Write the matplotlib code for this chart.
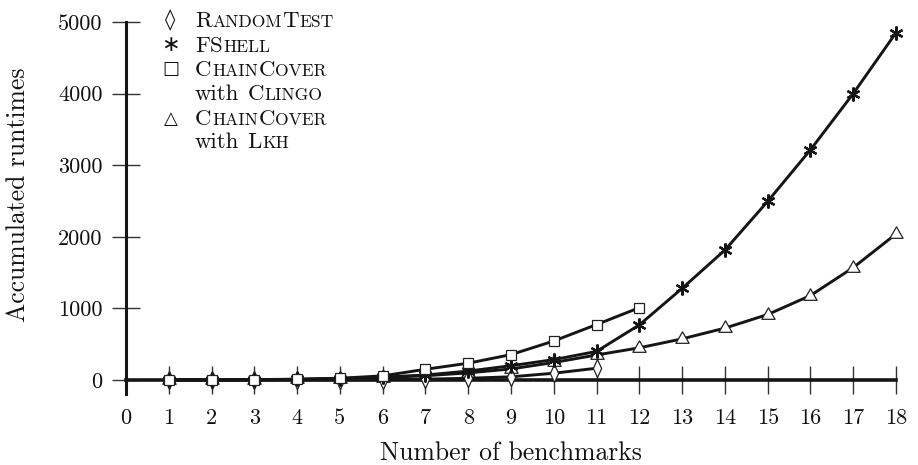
import matplotlib
matplotlib.use("Agg")
import matplotlib.pyplot as plt
from matplotlib.path import Path

plt.rcParams['font.family'] = ['cmr10', 'DejaVu Serif']
plt.rcParams['mathtext.fontset'] = 'cm'
plt.rcParams['axes.formatter.use_mathtext'] = True

# ---- data ----
x_random = [1, 2, 3, 4, 5, 6, 7, 8, 9, 10, 11]
y_random = [0, 0, 1, 2, 3, 5, 12, 25, 45, 95, 165]

x_fshell = list(range(1, 19))
y_fshell = [1, 2, 4, 10, 20, 40, 70, 125, 200, 285, 400, 770, 1280, 1815,
            2495, 3215, 4000, 4850]

x_clingo = list(range(1, 13))
y_clingo = [2, 4, 6, 12, 25, 58, 150, 235, 355, 545, 775, 1010]

x_lkh = list(range(1, 19))
y_lkh = [1, 2, 3, 8, 18, 35, 60, 100, 155, 245, 350, 450, 575, 725, 915,
         1180, 1570, 2040]

x_ticks = list(range(0, 19))
y_ticks = [0, 1000, 2000, 3000, 4000, 5000]

xlabel = "Number of benchmarks"
ylabel = "Accumulated runtimes"

# legend entries: (glyph, glyph size, [(text, is_small)] per line)
legend_entries = [
    ("\u25CA", 15, [[("R", False), ("ANDOM", True), ("T", False), ("EST", True)]]),
    ("\u2217", 16, [[("FS", False), ("HELL", True)]]),
    ("\u25A1", 13, [[("C", False), ("HAIN", True), ("C", False), ("OVER", True)],
                    [("with ", False), ("C", False), ("LINGO", True)]]),
    ("\u25B3", 13, [[("C", False), ("HAIN", True), ("C", False), ("OVER", True)],
                    [("with ", False), ("L", False), ("KH", True)]]),
]

W, H = 918, 465
fig = plt.figure(figsize=(W / 100, H / 100), dpi=100)
ax_left, ax_right = 126 / W, 896 / W
ax_top, ax_bot = 22 / H, 394 / H
ax = fig.add_axes([ax_left, 1 - ax_bot, ax_right - ax_left, ax_bot - ax_top])

diamond = Path([(0, 1), (0.46, 0), (0, -1), (-0.46, 0), (0, 1)],
               [Path.MOVETO, Path.LINETO, Path.LINETO, Path.LINETO, Path.CLOSEPOLY])
triangle = Path([(0, 1), (-0.866, -0.5), (0.866, -0.5), (0, 1)],
                [Path.MOVETO, Path.LINETO, Path.LINETO, Path.CLOSEPOLY])

lc = '#151515'
lw = 2.1
ax.plot(x_lkh, y_lkh, color=lc, lw=lw, marker=triangle, ms=11,
        mfc='white', mec='#222222', mew=0.9, zorder=3, clip_on=False)
ax.plot(x_random, y_random, color=lc, lw=lw, marker=diamond, ms=13,
        mfc='white', mec='#222222', mew=0.9, zorder=4, clip_on=False)
ax.plot(x_fshell, y_fshell, color=lc, lw=lw, marker=(6, 2, 0), ms=10,
        mfc=lc, mec=lc, mew=1.6, zorder=5, clip_on=False)
ax.plot(x_clingo, y_clingo, color=lc, lw=lw, marker='s', ms=7.5,
        mfc='white', mec='#222222', mew=0.9, zorder=6, clip_on=False)

ax.set_xlim(0, 18)
ax.set_ylim(-195, 5000)
ax.set_xticks(x_ticks)
ax.set_yticks(y_ticks)
ax.set_xticklabels([str(v) for v in x_ticks])
ax.set_yticklabels([str(v) for v in y_ticks])

for s in ['top', 'right']:
    ax.spines[s].set_visible(False)
ax.spines['bottom'].set_position(('data', 0))
ax.spines['bottom'].set_linewidth(2.6)
ax.spines['left'].set_linewidth(2.2)
ax.spines['bottom'].set_color(lc)
ax.spines['left'].set_color(lc)
ax.spines['bottom'].set_zorder(2.5)
ax.tick_params(axis='both', direction='inout', length=20, width=1.0,
               color='#333333', labelsize=16, labelcolor='#111111')
ax.tick_params(axis='x', pad=10.5)
ax.tick_params(axis='y', pad=7)
ax.patch.set_visible(False)

fig.text(511 / W, 1 - 460 / H, xlabel, fontsize=18.5, ha='center',
         va='baseline', color='#111111')
fig.text(18 / W, 1 - 195 / H, ylabel, fontsize=18.5, ha='center',
         va='center', rotation=90, color='#111111')

# manual legend with small caps
renderer = fig.canvas.get_renderer()
big, small = 16.5, 12.6


def width_of(s, fs):
    t = fig.text(0, 0, s, fontsize=fs)
    w = t.get_window_extent(renderer).width
    t.remove()
    return w


space_w = width_of("x x", big) - width_of("xx", big)
baselines = [26.7, 51.7, 76, 99.5, 125, 148]
row = 0
text_x0 = 195
for glyph, gsize, lines in legend_entries:
    fig.text(170.5 / W, 1 - (baselines[row] - 6.5) / H, glyph, fontsize=gsize,
             family='DejaVu Sans', ha='center', va='center', color='#111111')
    for parts in lines:
        x = text_x0
        yb = baselines[row]
        for s, is_small in parts:
            fs = small if is_small else big
            core = s.rstrip(' ')
            t = fig.text(x / W, 1 - yb / H, core, fontsize=fs, ha='left',
                         va='baseline', color='#111111')
            x += t.get_window_extent(renderer).width + 0.6
            if s.endswith(' '):
                x += space_w
        row += 1

fig.savefig("out.png", dpi=100)
